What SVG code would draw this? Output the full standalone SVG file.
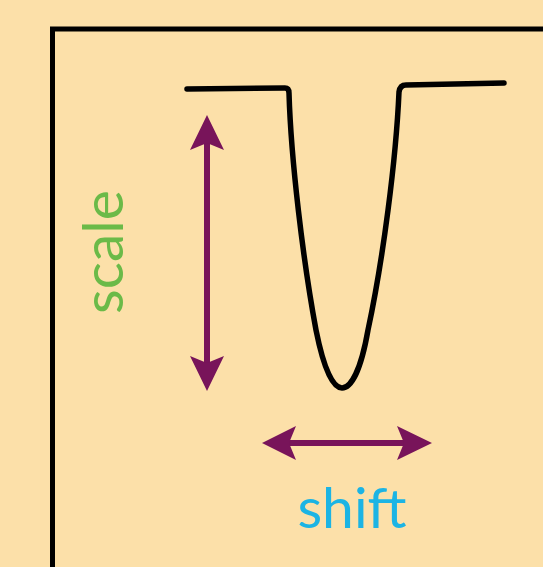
<svg xmlns="http://www.w3.org/2000/svg" width="543" height="567" viewBox="0 0 543 567">
  <style>
    .axis { fill: none; stroke: #000; stroke-width: 5; }
    .curve { fill: none; stroke: #000; stroke-width: 5.5; stroke-linecap: round; stroke-linejoin: round; }
    .shaft { stroke: #78145A; stroke-width: 6; fill: none; }
    .head { fill: #78145A; }
    .lbl { font-family: Lato, "Open Sans", sans-serif; font-size: 57px; text-anchor: middle; }
  </style>
  <rect x="0" y="0" width="543" height="567" fill="#FCE0A9"/>
  <g id="axes">
    <path class="axis" d="M52.5,567 L52.5,29 L543,29"/>
  </g>
  <g id="curve">
    <path class="curve" d="M187,89 L285,88 Q289,88 289,93 C291,160 303,260 316,330 C324,370 333,388 342,388 C351,388 361,370 368,330 C383,260 396,160 399,92 Q400,85 406,85 L504,83"/>
  </g>
  <g id="connectors">
    <g id="scale-arrow">
      <line class="shaft" x1="207" y1="140" x2="207" y2="366"/>
      <path class="head" d="M207,115 L224,150 L207,143 L190,150 Z"/>
      <path class="head" d="M207,391 L224,356 L207,363 L190,356 Z"/>
    </g>
    <g id="shift-arrow">
      <line class="shaft" x1="286" y1="443" x2="408" y2="443"/>
      <path class="head" d="M262,443 L296,426 L289,443 L296,460 Z"/>
      <path class="head" d="M432,443 L397,426 L404,443 L397,460 Z"/>
    </g>
  </g>
  <g id="label-scale">
    <text class="lbl" fill="#6BBA48" transform="translate(123,252) rotate(-90)">scale</text>
  </g>
  <g id="label-shift">
    <text class="lbl" fill="#1CB4E4" x="352" y="528">shift</text>
  </g>
</svg>
